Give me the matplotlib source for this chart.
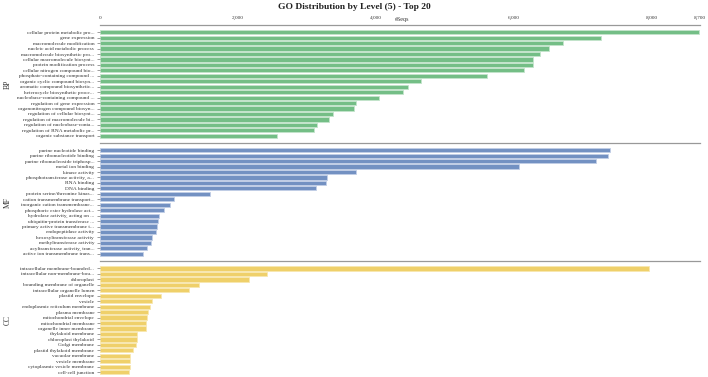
import matplotlib
matplotlib.use("Agg")
import matplotlib.pyplot as plt

plt.rcParams['font.family'] = ['Liberation Serif', 'DejaVu Serif']

title = "GO Distribution by Level (5) - Top 20"
x_label = "#Seqs"
x_ticks = [0, 2000, 4000, 6000, 8000, 8700]
x_max = 8700

bp_terms = [
    "cellular protein metabolic pro...", "gene expression", "macromolecule modification",
    "nucleic acid metabolic process", "macromolecule biosynthetic pro...",
    "cellular macromolecule biosynt...", "protein modification process",
    "cellular nitrogen compound bio...", "phosphate-containing compound ...",
    "organic cyclic compound biosyn...", "aromatic compound biosynthetic...",
    "heterocycle biosynthetic proce...", "nucleobase-containing compound ...",
    "regulation of gene expression", "organonitrogen compound biosyn...",
    "regulation of cellular biosynt...", "regulation of macromolecule bi...",
    "regulation of nucleobase-conta...", "regulation of RNA metabolic pr...",
    "organic substance transport",
]
bp_values = [8690, 7260, 6718, 6515, 6380, 6283, 6279, 6152, 5612, 4650,
             4462, 4394, 4041, 3712, 3683, 3374, 3316, 3151, 3099, 2571]

mf_terms = [
    "purine nucleotide binding", "purine ribonucleotide binding",
    "purine ribonucleoside triphosp...", "metal ion binding", "kinase activity",
    "phosphotransferase activity, a...", "RNA binding", "DNA binding",
    "protein serine/threonine kinas...", "cation transmembrane transport...",
    "inorganic cation transmembrane...", "phosphoric ester hydrolase act...",
    "hydrolase activity, acting on ...", "ubiquitin-protein transferase ...",
    "primary active transmembrane t...", "endopeptidase activity",
    "hexosyltransferase activity", "methyltransferase activity",
    "acyltransferase activity, tran...", "active ion transmembrane trans...",
]
mf_values = [7400, 7362, 7188, 6080, 3712, 3296, 3273, 3136, 1595, 1077,
             1011, 932, 851, 841, 822, 812, 750, 740, 682, 628]

cc_terms = [
    "intracellular membrane-bounded...", "intracellular non-membrane-bou...",
    "chloroplast", "bounding membrane of organelle", "intracellular organelle lumen",
    "plastid envelope", "vesicle", "endoplasmic reticulum membrane",
    "plasma membrane", "mitochondrial envelope", "mitochondrial membrane",
    "organelle inner membrane", "thylakoid membrane", "chloroplast thylakoid",
    "Golgi membrane", "plastid thylakoid membrane", "vacuolar membrane",
    "vesicle membrane", "cytoplasmic vesicle membrane", "cell-cell junction",
]
cc_values = [7956, 2417, 2156, 1436, 1291, 889, 754, 721, 692, 677,
             667, 663, 537, 537, 522, 474, 435, 435, 431, 416]

groups = ["BP", "MF", "CC"]
colors = ["#74be86", "#7391c2", "#efd06a"]
edges = ["#c4e4cc", "#c2cfe6", "#f8e7b0"]

W, H = 708, 377
fig = plt.figure(figsize=(W / 100, H / 100), dpi=100)

left_px, right_px = 100, 700
tops = [25, 143, 261.3]
panel_h = 118
data = [(bp_terms, bp_values), (mf_terms, mf_values), (cc_terms, cc_values)]

for gi, (top, (terms, vals)) in enumerate(zip(tops, data)):
    ax = fig.add_axes([left_px / W, 1 - (top + panel_h) / H,
                       (right_px - left_px) / W, panel_h / H])
    ypos = list(range(len(terms)))
    ax.barh(ypos, vals, height=0.78, color=colors[gi], edgecolor=edges[gi],
            linewidth=0.6)
    ax.set_xlim(0, x_max)
    ax.set_ylim(len(terms) - 1 + 1.32, -1.32)
    ax.set_yticks(ypos)
    ax.set_yticklabels(terms, fontsize=3.9, color="#333333")
    ax.tick_params(axis='y', length=2.2, width=0.5, color="#777777", pad=2)
    for s in ["left", "right", "bottom"]:
        ax.spines[s].set_visible(False)
    ax.spines["top"].set_color("#999999")
    ax.spines["top"].set_linewidth(0.9)
    if gi == 0:
        ax.xaxis.tick_top()
        ax.set_xticks(x_ticks)
        ax.set_xticklabels([f"{t:,}" for t in x_ticks], fontsize=3.8, color="#333333")
        ax.tick_params(axis='x', length=0, pad=3.5)
        ax.text(4280 / x_max, 1.0 + 6.0 / panel_h, x_label, transform=ax.transAxes,
                fontsize=4.3, color="#333333", ha="left", va="center")
    else:
        ax.set_xticks([])
    fig.text(8 / W, 1 - (top + panel_h / 2) / H, groups[gi], rotation=90,
             fontsize=5.5, color="#333333", ha="center", va="center")

fig.text(354 / W, 1 - 7 / H, title, fontsize=6.8, fontweight="bold",
         ha="center", va="center", color="#222222")

fig.savefig("out.png", dpi=100)
